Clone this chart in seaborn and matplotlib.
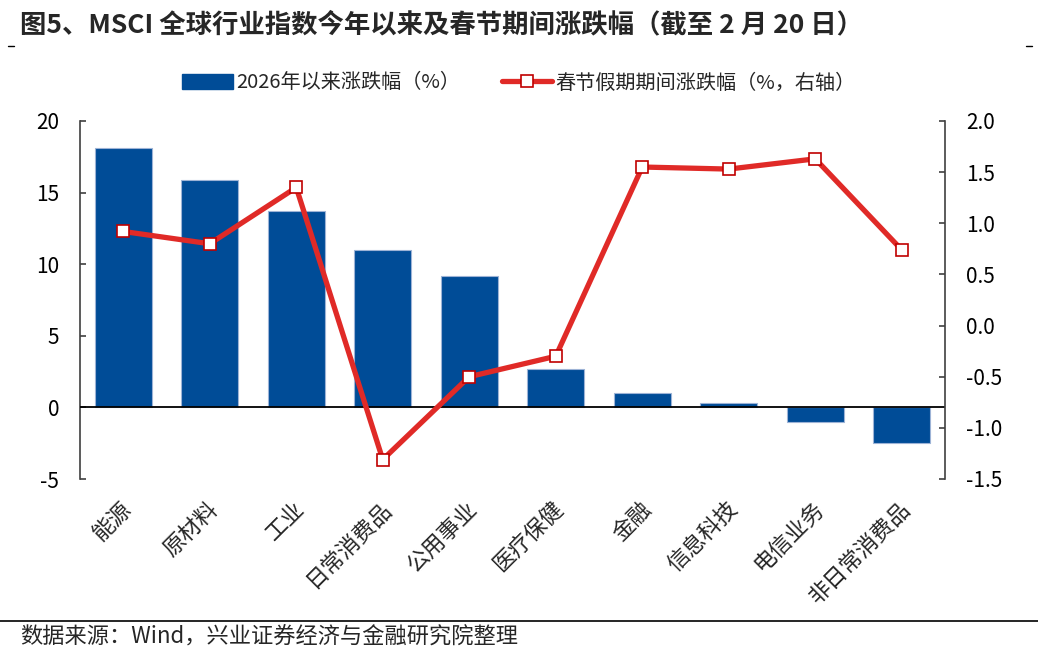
import matplotlib
matplotlib.use("Agg")
import matplotlib.pyplot as plt
import matplotlib.transforms as mtransforms
import seaborn as sns
import numpy as np
import pandas as pd
from matplotlib.lines import Line2D
from matplotlib.patches import Patch

categories = ["能源", "原材料", "工业", "日常消费品", "公用事业", "医疗保健", "金融", "信息科技", "电信业务", "非日常消费品"]
ytd_change = [18.1, 15.9, 13.7, 11.0, 9.2, 2.7, 1.0, 0.3, -1.0, -2.5]
holiday_change = [0.92, 0.80, 1.35, -1.31, -0.50, -0.30, 1.55, 1.53, 1.63, 0.74]
left_ticks = [-5, 0, 5, 10, 15, 20]
right_ticks = [-1.5, -1.0, -0.5, 0.0, 0.5, 1.0, 1.5, 2.0]

title = "图5、MSCI 全球行业指数今年以来及春节期间涨跌幅（截至 2 月 20 日）"
legend_bar = "2026年以来涨跌幅（%）"
legend_line = "春节假期期间涨跌幅（%，右轴）"
source = "数据来源：Wind，兴业证券经济与金融研究院整理"

sns.set_theme(style="white")
plt.rcParams['font.family'] = ['Noto Sans CJK SC', 'DejaVu Sans']
plt.rcParams['axes.unicode_minus'] = False

BLUE = "#004C97"
RED = "#E02A27"
DARKRED = "#C00000"

df = pd.DataFrame({"cat": categories, "ytd": ytd_change, "hol": holiday_change})

fig = plt.figure(figsize=(10.38, 6.6), dpi=100)
ax = fig.add_axes([80/1038, 1-479/660, (945-80)/1038, (479-121)/660])

sns.barplot(data=df, x="cat", y="ytd", ax=ax, color=BLUE, width=0.66,
            saturation=1, edgecolor="#9DB3D6", linewidth=0.8)
ax.set_ylim(-5, 20)
ax.set_yticks(left_ticks)
ax.set_yticklabels([str(t) for t in left_ticks])
ax.set_xlim(-0.5, len(categories) - 0.5)
ax.axhline(0, color="black", lw=1.3, zorder=3)

ax2 = ax.twinx()
sns.pointplot(data=df, x="cat", y="hol", ax=ax2, color=RED, markers="s",
              linestyles="-", native_scale=False)
for ln in ax2.lines:
    ln.set_linewidth(3.8)
    ln.set_markersize(8.5)
    ln.set_markerfacecolor("white")
    ln.set_markeredgecolor(DARKRED)
    ln.set_markeredgewidth(1.2)
    ln.set_color(RED)
ax2.set_ylim(-1.5, 2.0)
ax2.set_yticks(right_ticks)
ax2.set_yticklabels([f"{t:.1f}" for t in right_ticks])
ax2.set_xlim(-0.5, len(categories) - 0.5)

for a in (ax, ax2):
    a.set_xlabel("")
    a.set_ylabel("")
    for s in ["top", "bottom"]:
        a.spines[s].set_visible(False)
    a.grid(False)
ax.spines["right"].set_visible(False)
ax2.spines["left"].set_visible(False)
ax.spines["left"].set_color("#404040")
ax.spines["left"].set_linewidth(1.2)
ax2.spines["right"].set_color("#404040")
ax2.spines["right"].set_linewidth(1.2)

ax.tick_params(axis="y", direction="in", length=4.5, width=1.2, color="#404040",
               labelsize=15, pad=15, labelcolor="black")
ax2.tick_params(axis="y", direction="in", length=4.5, width=1.2, color="#404040",
                labelsize=15, pad=15, labelcolor="black")
ax.tick_params(axis="x", length=0, pad=19)
ax.set_xticks(range(len(categories)))
ax.set_xticklabels(categories, rotation=45, ha="right", rotation_mode="anchor",
                   fontsize=16, va="center")
offset = mtransforms.ScaledTranslation(5/100, 0, fig.dpi_scale_trans)
for lbl in ax.get_xticklabels():
    lbl.set_transform(lbl.get_transform() + offset)
ax2.tick_params(axis="x", length=0, labelbottom=False)

handles = [Patch(facecolor=BLUE, edgecolor=BLUE),
           Line2D([0], [0], color=RED, lw=3.8, marker="s", markersize=8.5,
                  markerfacecolor="white", markeredgecolor=DARKRED, markeredgewidth=1.2)]
fig.legend(handles, [legend_bar, legend_line], loc="center", bbox_to_anchor=(0.5, 1-83/660),
           ncol=2, frameon=False, fontsize=14.5, handlelength=2.5, handleheight=0.7,
           handletextpad=0.15, columnspacing=2.1)

fig.text(20/1038, 1-25/660, title, fontsize=19, fontweight="bold", ha="left", va="center")
fig.lines.append(Line2D([8/1038, 14/1038], [1-46/660, 1-46/660], color="black", lw=1, transform=fig.transFigure))
fig.lines.append(Line2D([1026/1038, 1032/1038], [1-46/660, 1-46/660], color="black", lw=1, transform=fig.transFigure))
fig.lines.append(Line2D([0, 1], [1-621/660, 1-621/660], color="black", lw=1.2, transform=fig.transFigure))
fig.text(20/1038, 1-637/660, source, fontsize=16, ha="left", va="center")

fig.savefig("out.png", dpi=100)
